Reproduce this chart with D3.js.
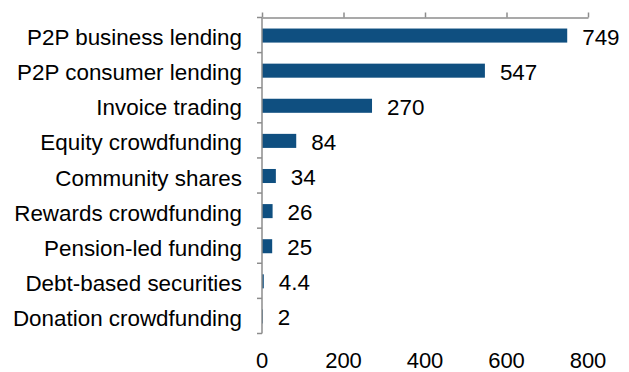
<!DOCTYPE html>
<html>
<head>
<meta charset="utf-8">
<script src="https://cdn.jsdelivr.net/npm/d3@7"></script>
<style>
  html, body { margin: 0; padding: 0; background: #fff; }
  svg { display: block; }
  text { font-family: "Liberation Sans", Arial, sans-serif; fill: #000; }
</style>
</head>
<body>
<svg id="chart" width="629" height="372"></svg>
<script>
// Funding volumes by alternative finance model
const categories = [
  "P2P business lending",
  "P2P consumer lending",
  "Invoice trading",
  "Equity crowdfunding",
  "Community shares",
  "Rewards crowdfunding",
  "Pension-led funding",
  "Debt-based securities",
  "Donation crowdfunding"
];
const values = [749, 547, 270, 84, 34, 26, 25, 4.4, 2];
const valueLabels = ["749", "547", "270", "84", "34", "26", "25", "4.4", "2"];
const tickValues = [0, 200, 400, 600, 800];

const svg = d3.select("#chart");
const axisColor = "#8c8c8c";
const barColor = "#0f4f80";
const fontSize = 22.4;

const x = d3.scaleLinear().domain([0, 800]).range([262, 588]);
const y = d3.scaleBand()
  .domain(categories)
  .range([17.5, 333.5])
  .paddingInner(0.6)
  .paddingOuter(0.3);

// Bars
svg.append("g")
  .selectAll("rect")
  .data(values)
  .join("rect")
  .attr("x", x(0))
  .attr("y", (d, i) => y(categories[i]) + 0.5)
  .attr("width", d => x(d) - x(0))
  .attr("height", y.bandwidth())
  .attr("fill", barColor);

// Value labels
svg.append("g")
  .selectAll("text")
  .data(values)
  .join("text")
  .attr("x", d => x(d) + 15)
  .attr("y", (d, i) => y(categories[i]) + y.bandwidth() / 2 + 9.5)
  .attr("font-size", fontSize)
  .text((d, i) => valueLabels[i]);

// Category labels
svg.append("g")
  .selectAll("text")
  .data(categories)
  .join("text")
  .attr("x", 242)
  .attr("y", d => y(d) + y.bandwidth() / 2 + 10)
  .attr("text-anchor", "end")
  .attr("font-size", fontSize)
  .text(d => d);

// Top value axis: line with upward ticks, no labels
const topAxis = svg.append("g")
  .attr("transform", `translate(0,${y.range()[0]})`)
  .call(d3.axisTop(x).tickValues(tickValues).tickSizeInner(5).tickSizeOuter(0).tickFormat(""));
topAxis.select(".domain").attr("stroke", axisColor).attr("stroke-width", 1.5);
topAxis.selectAll(".tick line").attr("stroke", axisColor).attr("stroke-width", 1.5);

// Category axis: vertical line with ticks at band boundaries
const [y0, y1] = y.range();
const step = y.step();
const bounds = d3.range(categories.length + 1).map(i => y0 + i * step);
const leftAxis = svg.append("g");
leftAxis.append("line")
  .attr("x1", x(0)).attr("x2", x(0))
  .attr("y1", y0).attr("y2", y1)
  .attr("stroke", axisColor).attr("stroke-width", 1.5);
leftAxis.selectAll("line.tick")
  .data(bounds)
  .join("line")
  .attr("class", "tick")
  .attr("x1", x(0) - 5).attr("x2", x(0))
  .attr("y1", d => d).attr("y2", d => d)
  .attr("stroke", axisColor).attr("stroke-width", 1.5);

// Value tick labels along the bottom
svg.append("g")
  .selectAll("text")
  .data(tickValues)
  .join("text")
  .attr("x", d => x(d))
  .attr("y", 368)
  .attr("text-anchor", "middle")
  .attr("font-size", 22)
  .text(d => d);
</script>
</body>
</html>
